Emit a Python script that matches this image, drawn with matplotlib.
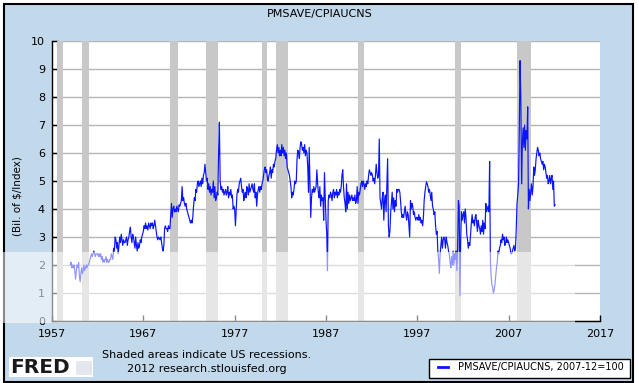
import numpy as np
import pandas as pd
import matplotlib
matplotlib.use('Agg')
import matplotlib.pyplot as plt
import matplotlib.dates as mdates
from matplotlib.patches import Rectangle
from matplotlib.lines import Line2D

# personal saving / CPI, monthly from 1959-01
start = '1959-01-01'
pmsave_real = [
    2.0, 2.1, 1.9, 2.0, 1.9, 2.0, 1.8, 1.5, 1.8, 2.0, 1.9, 2.1,   # 1959
    1.6, 1.4, 1.7, 1.9, 1.7, 1.8, 2.0, 1.8, 1.9, 2.0, 1.9, 2.0,   # 1960
    2.0, 2.1, 2.2, 2.3, 2.4, 2.3, 2.4, 2.5, 2.4, 2.3, 2.4, 2.4,   # 1961
    2.4, 2.3, 2.4, 2.3, 2.4, 2.2, 2.3, 2.1, 2.2, 2.1, 2.2, 2.3,   # 1962
    2.1, 2.2, 2.1, 2.1, 2.2, 2.2, 2.4, 2.3, 2.2, 2.6, 2.5, 3.0,   # 1963
    2.9, 2.6, 2.8, 2.4, 2.7, 3.0, 2.8, 3.1, 2.9, 2.7, 2.9, 2.8,   # 1964
    2.8, 2.9, 3.0, 2.7, 2.9, 3.0, 3.2, 3.35, 3.0, 2.8, 3.1, 3.0,  # 1965
    2.8, 2.6, 3.0, 2.7, 2.5, 2.8, 2.6, 2.7, 2.9, 2.8, 3.0, 3.1,   # 1966
    3.2, 3.4, 3.3, 3.5, 3.3, 3.4, 3.25, 3.5, 3.4, 3.3, 3.5, 3.4,  # 1967
    3.5, 3.3, 3.4, 3.6, 3.4, 3.2, 3.0, 2.9, 3.0, 2.95, 2.9, 3.0,  # 1968
    2.8, 2.6, 2.5, 2.7, 3.3, 3.4, 3.3, 3.3, 3.2, 3.4, 3.3, 3.3,   # 1969
    3.8, 4.2, 3.7, 4.0, 4.1, 3.9, 4.0, 3.9, 4.1, 4.0, 3.9, 4.15,  # 1970
    4.1, 4.2, 4.3, 4.8, 4.3, 4.4, 4.2, 4.1, 4.2, 4.0, 3.9, 3.8,   # 1971
    3.7, 3.6, 3.5, 3.6, 3.5, 3.7, 4.1, 4.4, 4.3, 4.7, 4.6, 4.9,   # 1972
    5.0, 4.8, 4.9, 5.0, 4.8, 5.1, 4.9, 5.2, 5.3, 5.6, 5.3, 5.0,   # 1973
    5.1, 4.7, 4.9, 4.6, 4.8, 4.5, 4.7, 4.6, 5.0, 4.4, 4.8, 4.3,   # 1974
    4.4, 4.6, 4.5, 6.1, 7.1, 5.0, 4.7, 4.8, 4.6, 4.7, 4.5, 4.6,   # 1975
    4.7, 4.5, 4.6, 4.8, 4.4, 4.6, 4.5, 4.7, 4.4, 4.5, 4.0, 4.1,   # 1976
    4.0, 3.4, 3.9, 4.5, 4.7, 4.6, 4.9, 5.0, 5.1, 4.8, 4.6, 4.7,   # 1977
    4.3, 4.5, 4.6, 4.4, 4.8, 4.7, 4.5, 4.9, 4.6, 4.7, 4.8, 4.9,   # 1978
    4.7, 4.6, 4.9, 4.4, 4.6, 4.1, 4.5, 4.7, 4.8, 4.6, 4.8, 4.7,   # 1979
    4.9, 5.0, 5.2, 5.4, 5.5, 5.3, 5.4, 5.1, 5.0, 5.2, 5.3, 5.5,   # 1980
    5.1, 5.4, 5.3, 5.6, 5.5, 5.7, 5.8, 6.1, 6.3, 6.0, 6.2, 5.9,   # 1981
    6.1, 5.9, 6.3, 6.0, 6.2, 5.9, 6.1, 5.8, 6.0, 5.5, 5.4, 5.3,   # 1982
    5.2, 5.0, 4.8, 4.4, 4.6, 4.5, 4.7, 5.0, 4.9, 5.0, 5.8, 6.1,   # 1983
    6.0, 5.8, 6.2, 6.4, 6.3, 6.1, 6.2, 6.0, 6.3, 5.9, 6.1, 6.0,   # 1984
    5.5, 4.6, 6.2, 5.0, 3.7, 4.4, 4.7, 4.6, 4.8, 4.6, 4.7, 4.8,   # 1985
    5.4, 4.9, 4.6, 4.4, 4.8, 4.1, 4.5, 4.3, 4.4, 3.6, 5.3, 4.5,   # 1986
    3.6, 3.1, 1.8, 4.3, 4.5, 4.4, 4.6, 4.5, 4.3, 4.6, 4.7, 4.4,   # 1987
    4.6, 4.5, 4.7, 4.4, 4.6, 4.5, 4.7, 4.6, 4.8, 5.2, 5.4, 4.8,   # 1988
    4.4, 4.2, 3.9, 4.9, 4.0, 4.6, 4.2, 4.5, 4.3, 4.4, 4.5, 4.3,   # 1989
    4.4, 4.3, 4.5, 4.2, 4.3, 4.8, 4.2, 4.6, 4.5, 4.7, 4.9, 5.0,   # 1990
    4.8, 5.0, 4.9, 4.7, 4.9, 4.8, 5.0, 4.9, 5.2, 5.4, 5.3, 5.2,   # 1991
    5.3, 5.2, 5.0, 5.1, 4.9, 5.2, 5.6, 5.3, 5.1, 5.2, 6.5, 4.4,   # 1992
    4.2, 4.0, 4.4, 4.6, 3.6, 4.3, 4.5, 3.9, 4.8, 5.8, 3.4, 3.0,   # 1993
    3.2, 3.9, 4.2, 4.6, 4.0, 4.4, 3.9, 4.3, 4.1, 4.7, 4.6, 4.7,   # 1994
    4.7, 4.6, 4.3, 3.9, 3.7, 3.8, 3.7, 3.9, 4.1, 3.8, 3.6, 3.9,   # 1995
    3.8, 3.4, 3.0, 4.3, 4.0, 4.2, 4.1, 3.8, 3.9, 3.7, 3.6, 3.7,   # 1996
    3.7, 3.6, 3.8, 3.6, 3.7, 3.5, 3.6, 3.4, 3.7, 4.3, 4.6, 4.8,   # 1997
    4.97, 4.9, 4.8, 4.6, 4.7, 4.5, 4.3, 4.6, 4.1, 4.0, 3.8, 3.9,  # 1998
    3.4, 3.1, 3.2, 2.5, 2.2, 1.7, 2.4, 2.7, 3.0, 2.6, 2.9, 3.0,   # 1999
    2.9, 2.6, 3.0, 2.8, 2.7, 2.5, 2.4, 2.1, 1.9, 2.3, 2.0, 2.5,   # 2000
    2.0, 2.4, 2.2, 2.5, 1.8, 2.6, 4.3, 4.1, 0.9, 2.9, 3.9, 3.6,   # 2001
    3.8, 3.9, 3.5, 4.0, 3.7, 3.1, 2.9, 2.6, 2.8, 2.7, 3.1, 3.5,   # 2002
    3.8, 3.5, 3.6, 3.4, 3.7, 3.8, 3.5, 3.2, 3.6, 3.4, 3.3, 3.1,   # 2003
    3.4, 3.2, 3.6, 3.1, 3.5, 3.3, 4.2, 3.9, 4.0, 4.1, 3.9, 5.7,   # 2004
    2.1, 1.6, 1.3, 1.2, 1.0, 1.1, 1.3, 1.6, 1.9, 2.1, 2.5, 2.4,   # 2005
    2.6, 2.7, 2.9, 2.8, 3.1, 2.9, 3.0, 2.7, 2.8, 3.0, 2.8, 2.9,   # 2006
    2.8, 2.7, 2.6, 2.4, 2.4, 2.5, 2.6, 2.7, 2.5, 2.6, 3.3, 4.2,   # 2007
    4.5, 4.9, 6.8, 9.3, 8.0, 4.9, 6.3, 6.9, 6.2, 7.0, 6.1, 6.8,   # 2008
    6.5, 7.65, 4.0, 4.7, 4.3, 4.6, 4.9, 4.5, 4.8, 5.5, 5.2, 5.4,  # 2009
    5.8, 6.0, 6.2, 6.1, 5.9, 6.0, 5.8, 5.7, 5.6, 5.7, 5.4, 5.6,   # 2010
    5.5, 5.3, 5.1, 5.2, 4.9, 5.0, 5.2, 4.9, 5.1, 5.2, 4.7, 5.0,   # 2011
    4.1, 4.15,                                                    # 2012
]

recessions = [
    ('1957-08-01', '1958-04-01'), ('1960-04-01', '1961-02-01'),
    ('1969-12-01', '1970-11-01'), ('1973-11-01', '1975-03-01'),
    ('1980-01-01', '1980-07-01'), ('1981-07-01', '1982-11-01'),
    ('1990-07-01', '1991-03-01'), ('2001-03-01', '2001-11-01'),
    ('2007-12-01', '2009-06-01'),
]
tick_years = [1957, 1967, 1977, 1987, 1997, 2007, 2017]
y_ticks = list(range(0, 11))

W, H = 639, 383
def fx(px):
    return px / W
def fy(py):
    return 1 - py / H

dates = pd.date_range(start, periods=len(pmsave_real), freq='MS')

fig = plt.figure(figsize=(W / 100, H / 100), dpi=100)
fig.patch.set_facecolor('white')

# light blue frame with black border
bg = Rectangle((fx(4), fy(382)), fx(629), 378 / H, transform=fig.transFigure,
               facecolor='#c2d8eb', edgecolor='black', lw=1.5, zorder=-1)
fig.patches.append(bg)

ax = fig.add_axes([fx(52), fy(321), fx(548), 280 / H])
ax.set_facecolor('white')

for s, e in recessions:
    ax.axvspan(pd.Timestamp(s), pd.Timestamp(e), color='#c8c8c8', lw=0, zorder=1)

line, = ax.plot(dates, pmsave_real, color='#0a14ff', lw=0.85, zorder=3)

ax.set_xlim(pd.Timestamp('1957-01-01'), pd.Timestamp('2017-01-01'))
ax.set_ylim(0, 10)
ax.set_yticks(y_ticks)
ax.set_xticks([pd.Timestamp(f'{y}-01-01') for y in tick_years])
ax.set_xticklabels([str(y) for y in tick_years])

ax.set_axisbelow(True)
ax.yaxis.grid(True, color='#b4b4b4', lw=1)
ax.xaxis.grid(False)
for side in ['top', 'right']:
    ax.spines[side].set_visible(False)
for side in ['left', 'bottom']:
    ax.spines[side].set_color('black')
    ax.spines[side].set_linewidth(1)
ax.tick_params(axis='both', direction='in', length=4, width=1, colors='black', labelsize=8)
ax.tick_params(axis='y', pad=5)
ax.tick_params(axis='x', pad=6)

fig.text(0.5, fy(14), 'PMSAVE/CPIAUCNS', ha='center', va='center', fontsize=8)
fig.text(fx(18), fy(196), '(Bil. of $/Index)', rotation=90, ha='center', va='center', fontsize=7.5)

# footer
fig.text(fx(207), fy(355), 'Shaded areas indicate US recessions.', ha='center', va='center', fontsize=8)
fig.text(fx(207), fy(369), '2012 research.stlouisfed.org', ha='center', va='center', fontsize=8)

fig.patches.append(Rectangle((fx(9), fy(377)), fx(84), 20 / H, transform=fig.transFigure,
                             facecolor='white', edgecolor='none', zorder=2))
fig.text(fx(10), fy(367.5), 'FRED', ha='left', va='center', fontsize=14.5,
         fontweight='heavy', color='#1a1a1a', zorder=3)
fig.patches.append(Rectangle((fx(76), fy(375)), fx(16), 14 / H, transform=fig.transFigure,
                             facecolor='#e3e8ee', edgecolor='none', zorder=3))

# legend box
fig.patches.append(Rectangle((fx(429), fy(378)), fx(201), 19 / H, transform=fig.transFigure,
                             facecolor='white', edgecolor='black', lw=1, zorder=2))
fig.add_artist(Line2D([fx(438), fx(448)], [fy(367), fy(367)], transform=fig.transFigure,
                      color=line.get_color(), lw=2, zorder=3))
fig.text(fx(458), fy(367), 'PMSAVE/CPIAUCNS, 2007-12=100', ha='left', va='center', fontsize=7, zorder=3)

# washed-out strip across the lower part of the picture
fig.patches.append(Rectangle((0, fy(323)), fx(575), 71 / H, transform=fig.transFigure,
                             facecolor='white', edgecolor='none', alpha=0.55, zorder=10))

fig.savefig('out.png', dpi=100)
